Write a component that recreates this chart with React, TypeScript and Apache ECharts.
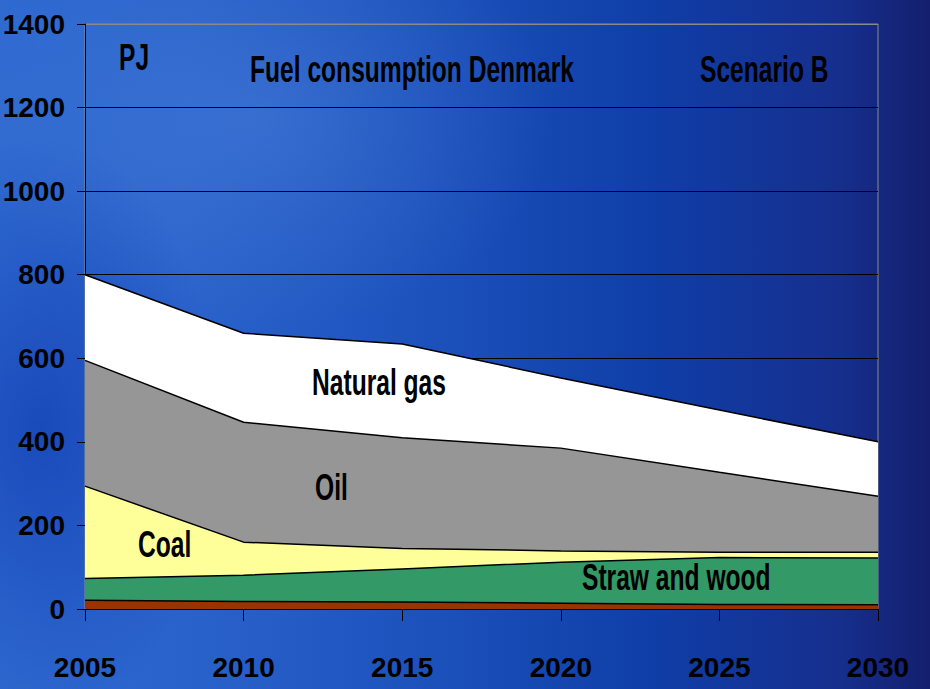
import React, { useEffect, useRef } from "react";
import * as echarts from "echarts";

const years = ["2005", "2010", "2015", "2020", "2025", "2030"];
const yTicks = { min: 0, max: 1400, interval: 200 };

// Individual (non-cumulative) values, PJ
const otherRed = [21, 18, 17, 14, 11, 10];
const strawWood = [52, 63, 79, 98, 112, 112];
const coal = [221, 79, 49, 27, 13, 14];
const oil = [301, 287, 265, 246, 191, 134];
const naturalGas = [205, 213, 224, 168, 149, 130];

const seriesNames = ["Other", "Straw and wood", "Coal", "Oil", "Natural gas"];
const seriesData = [otherRed, strawWood, coal, oil, naturalGas];
const seriesColors = ["#993300", "#339966", "#FFFF99", "#969696", "#FFFFFF"];

const FONT = "'Liberation Sans', Arial, sans-serif";

export default function App() {
  const ref = useRef<HTMLDivElement>(null);
  useEffect(() => {
    document.body.style.margin = "0";
    if (!ref.current) return;
    const chart = echarts.init(ref.current, undefined, { renderer: "svg" });
    const txt = (text: string, x: number, y: number, size = 30) => ({
      type: "text",
      x,
      y,
      scaleX: 0.82,
      scaleY: 1.2,
      z: 100,
      style: {
        text,
        fontFamily: FONT,
        fontWeight: "bold",
        fontSize: size,
        fill: "#000",
        textAlign: "left",
        textVerticalAlign: "middle",
      },
    });
    chart.setOption({
      animation: false,
      backgroundColor: "transparent",
      grid: {
        left: 85,
        right: 52,
        top: 24,
        bottom: 80,
        containLabel: false,
        outerBoundsMode: "none",
        show: true,
        borderColor: "#8a8a8a",
        borderWidth: 1,
        backgroundColor: "transparent",
      },
      xAxis: {
        type: "category",
        data: years,
        boundaryGap: false,
        axisLine: { lineStyle: { color: "#000", width: 1 } },
        axisTick: { show: true, length: 12, lineStyle: { color: "#000" } },
        axisLabel: {
          color: "#000",
          fontFamily: FONT,
          fontWeight: "bold",
          fontSize: 28,
          margin: 58,
          verticalAlign: "middle",
        },
        splitLine: { show: false },
        z: 5,
      },
      yAxis: {
        type: "value",
        min: yTicks.min,
        max: yTicks.max,
        interval: yTicks.interval,
        axisLine: { show: true, lineStyle: { color: "#000", width: 1 } },
        axisTick: { show: true, length: 8, lineStyle: { color: "#000" } },
        axisLabel: {
          color: "#000",
          fontFamily: FONT,
          fontWeight: "bold",
          fontSize: 28,
          margin: 20,
          formatter: (v: number) => String(v),
        },
        splitLine: {
          show: true,
          lineStyle: {
            color: ["#000", "#000", "#000", "#000", "#000", "#000", "#000", "#8a8a8a"],
            width: 1,
          },
        },
        z: 0,
      },
      series: seriesNames.map((name, i) => ({
        name,
        type: "line",
        stack: "total",
        data: seriesData[i],
        showSymbol: false,
        symbol: "none",
        lineStyle: { color: "#000", width: 1.5 },
        areaStyle: { color: seriesColors[i], opacity: 1 },
        z: 2,
      })),
      graphic: [
        txt("PJ", 119, 58),
        txt("Fuel consumption Denmark", 250, 70),
        txt("Scenario B", 700, 70),
        txt("Natural gas", 312, 383),
        txt("Oil", 315, 488),
        txt("Coal", 138, 545),
        txt("Straw and wood", 582, 578),
      ],
    });
    return () => chart.dispose();
  }, []);
  return (
    <div
      style={{
        width: 930,
        height: 689,
        position: "relative",
        background:
          "radial-gradient(ellipse 260px 420px at 40px 430px, rgba(10,50,170,0.55), rgba(10,50,170,0) 70%)," +
          "radial-gradient(ellipse 420px 300px at 260px 120px, rgba(120,170,240,0.22), rgba(120,170,240,0) 70%)," +
          "linear-gradient(90deg, #2f6ad0 0%, #2a62cb 20%, #1d52bd 45%, #0f3ea8 70%, #162f8e 90%, #141f6e 100%)",
      }}
    >
      <div ref={ref} style={{ width: 930, height: 689 }} />
    </div>
  );
}
